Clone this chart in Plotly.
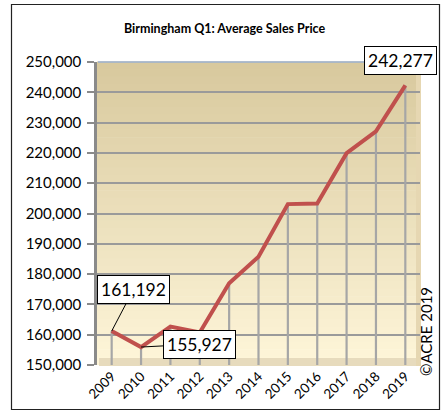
import plotly.graph_objects as go

years = ["2009", "2010", "2011", "2012", "2013", "2014", "2015", "2016", "2017", "2018", "2019"]
prices = [161192, 155927, 162700, 160700, 177000, 185700, 203100, 203300, 219900, 227100, 242277]
y_ticks = [150000, 160000, 170000, 180000, 190000, 200000, 210000, 220000, 230000, 240000, 250000]
y_min, y_max = 150000, 250000

W, H = 441, 414
L, R, T, B = 97, 21, 62, 49
PW, PH = W - L - R, H - T - B

def px(x):
    return (x - L) / PW

def py(y):
    return (H - B - y) / PH

FONT = "Lato, Calibri, Carlito, sans-serif"

fig = go.Figure()

# drop lines
fig.add_trace(go.Scatter(
    x=years, y=prices, mode="markers",
    marker=dict(size=1, color="#a6a6a6"),
    error_y=dict(type="data", symmetric=False,
                 array=[0] * len(prices),
                 arrayminus=[p - y_min for p in prices],
                 color="#a6a6a6", thickness=2.2, width=0),
    hoverinfo="skip", showlegend=False,
))
fig.add_trace(go.Scatter(
    x=years, y=prices, mode="lines",
    line=dict(color="#c0504d", width=4),
    showlegend=False,
))

shapes = []
# gradient background
n = 40
top = (216, 201, 158)
bot = (254, 245, 216)
for i in range(n):
    f = i / (n - 1)
    c = tuple(int(round(top[k] + (bot[k] - top[k]) * f)) for k in range(3))
    y0 = 1 - (i + 1) / n
    y1 = 1 - i / n
    shapes.append(dict(type="rect", xref="paper", yref="paper", x0=0, x1=1,
                       y0=y0, y1=y1 + 0.002, line=dict(width=0),
                       fillcolor="rgb(%d,%d,%d)" % c, layer="below"))
# floor
shapes.append(dict(type="rect", xref="paper", yref="paper", x0=px(99), x1=px(419),
                   y0=py(366), y1=py(358), line=dict(width=0),
                   fillcolor="#e7dbbd", layer="below"))
# right side wall
shapes.append(dict(type="rect", xref="paper", yref="paper", x0=px(416), x1=px(421),
                   y0=py(366), y1=py(62), line=dict(width=0),
                   fillcolor="#e6d7b2", layer="below"))
# top edge blue
shapes.append(dict(type="line", xref="paper", yref="paper", x0=px(98), x1=px(419),
                   y0=py(62), y1=py(62), line=dict(color="#9bb0d0", width=1.5)))
# outer frame
shapes.append(dict(type="rect", xref="paper", yref="paper", x0=px(11.5), x1=px(439.5),
                   y0=py(409.5), y1=py(4.5), line=dict(color="#222222", width=1.2),
                   fillcolor="rgba(0,0,0,0)", layer="below"))

fig.update_layout(
    width=W, height=H,
    margin=dict(l=L, r=R, t=T, b=B, autoexpand=False),
    paper_bgcolor="white", plot_bgcolor="rgba(0,0,0,0)",
    font=dict(family=FONT, color="#000000"),
    shapes=shapes,
    showlegend=False,
    xaxis=dict(type="category", range=[-0.5, len(years) - 0.5],
               showgrid=False, zeroline=False, tickangle=-45,
               tickfont=dict(size=13.5), ticks="", showline=False,
               automargin=False),
    yaxis=dict(range=[y_min, y_max], tickvals=y_ticks,
               ticktext=[f"{v:,}" for v in y_ticks],
               showgrid=True, gridcolor="#9a9a9a", gridwidth=1.5,
               zeroline=False, showline=True, linecolor="#8a8a8a", linewidth=2.5,
               ticks="outside", ticklen=7, tickcolor="#8a8a8a", tickwidth=1.5,
               tickfont=dict(size=15), ticklabelstandoff=3, automargin=False),
)

last = len(years) - 1
annotations = [
    dict(text="<b>Birmingham Q1: Average Sales Price</b>", xref="paper", yref="paper",
         x=px(225), y=py(29), showarrow=False, font=dict(size=12.5),
         xanchor="center", yanchor="middle"),
    dict(text="©ACRE 2019", xref="paper", yref="paper", x=px(426), y=py(332),
         showarrow=False, textangle=-90, font=dict(size=15),
         xanchor="center", yanchor="middle"),
    dict(text=f"{prices[0]:,}", x=0, y=prices[0], xref="x", yref="y",
         showarrow=True, arrowhead=0, arrowwidth=1, arrowcolor="black",
         ax=22, ay=-42, bgcolor="white", bordercolor="black", borderwidth=1,
         borderpad=3, font=dict(size=17.5)),
    dict(text=f"{prices[1]:,}", x=1, y=prices[1], xref="x", yref="y",
         showarrow=True, arrowhead=0, arrowwidth=1, arrowcolor="black",
         ax=58, ay=-3, bgcolor="white", bordercolor="black", borderwidth=1,
         borderpad=3, font=dict(size=17.5)),
    dict(text=f"{prices[-1]:,}", x=last, y=prices[-1], xref="x", yref="y",
         showarrow=False, xshift=-5, yshift=25,
         bgcolor="white", bordercolor="black", borderwidth=1,
         borderpad=3, font=dict(size=17.5)),
]
fig.update_layout(annotations=annotations)

fig.write_html("out.html", config={"displayModeBar": False},
               post_script="document.body.style.margin='0px';document.body.style.overflow='hidden';")
